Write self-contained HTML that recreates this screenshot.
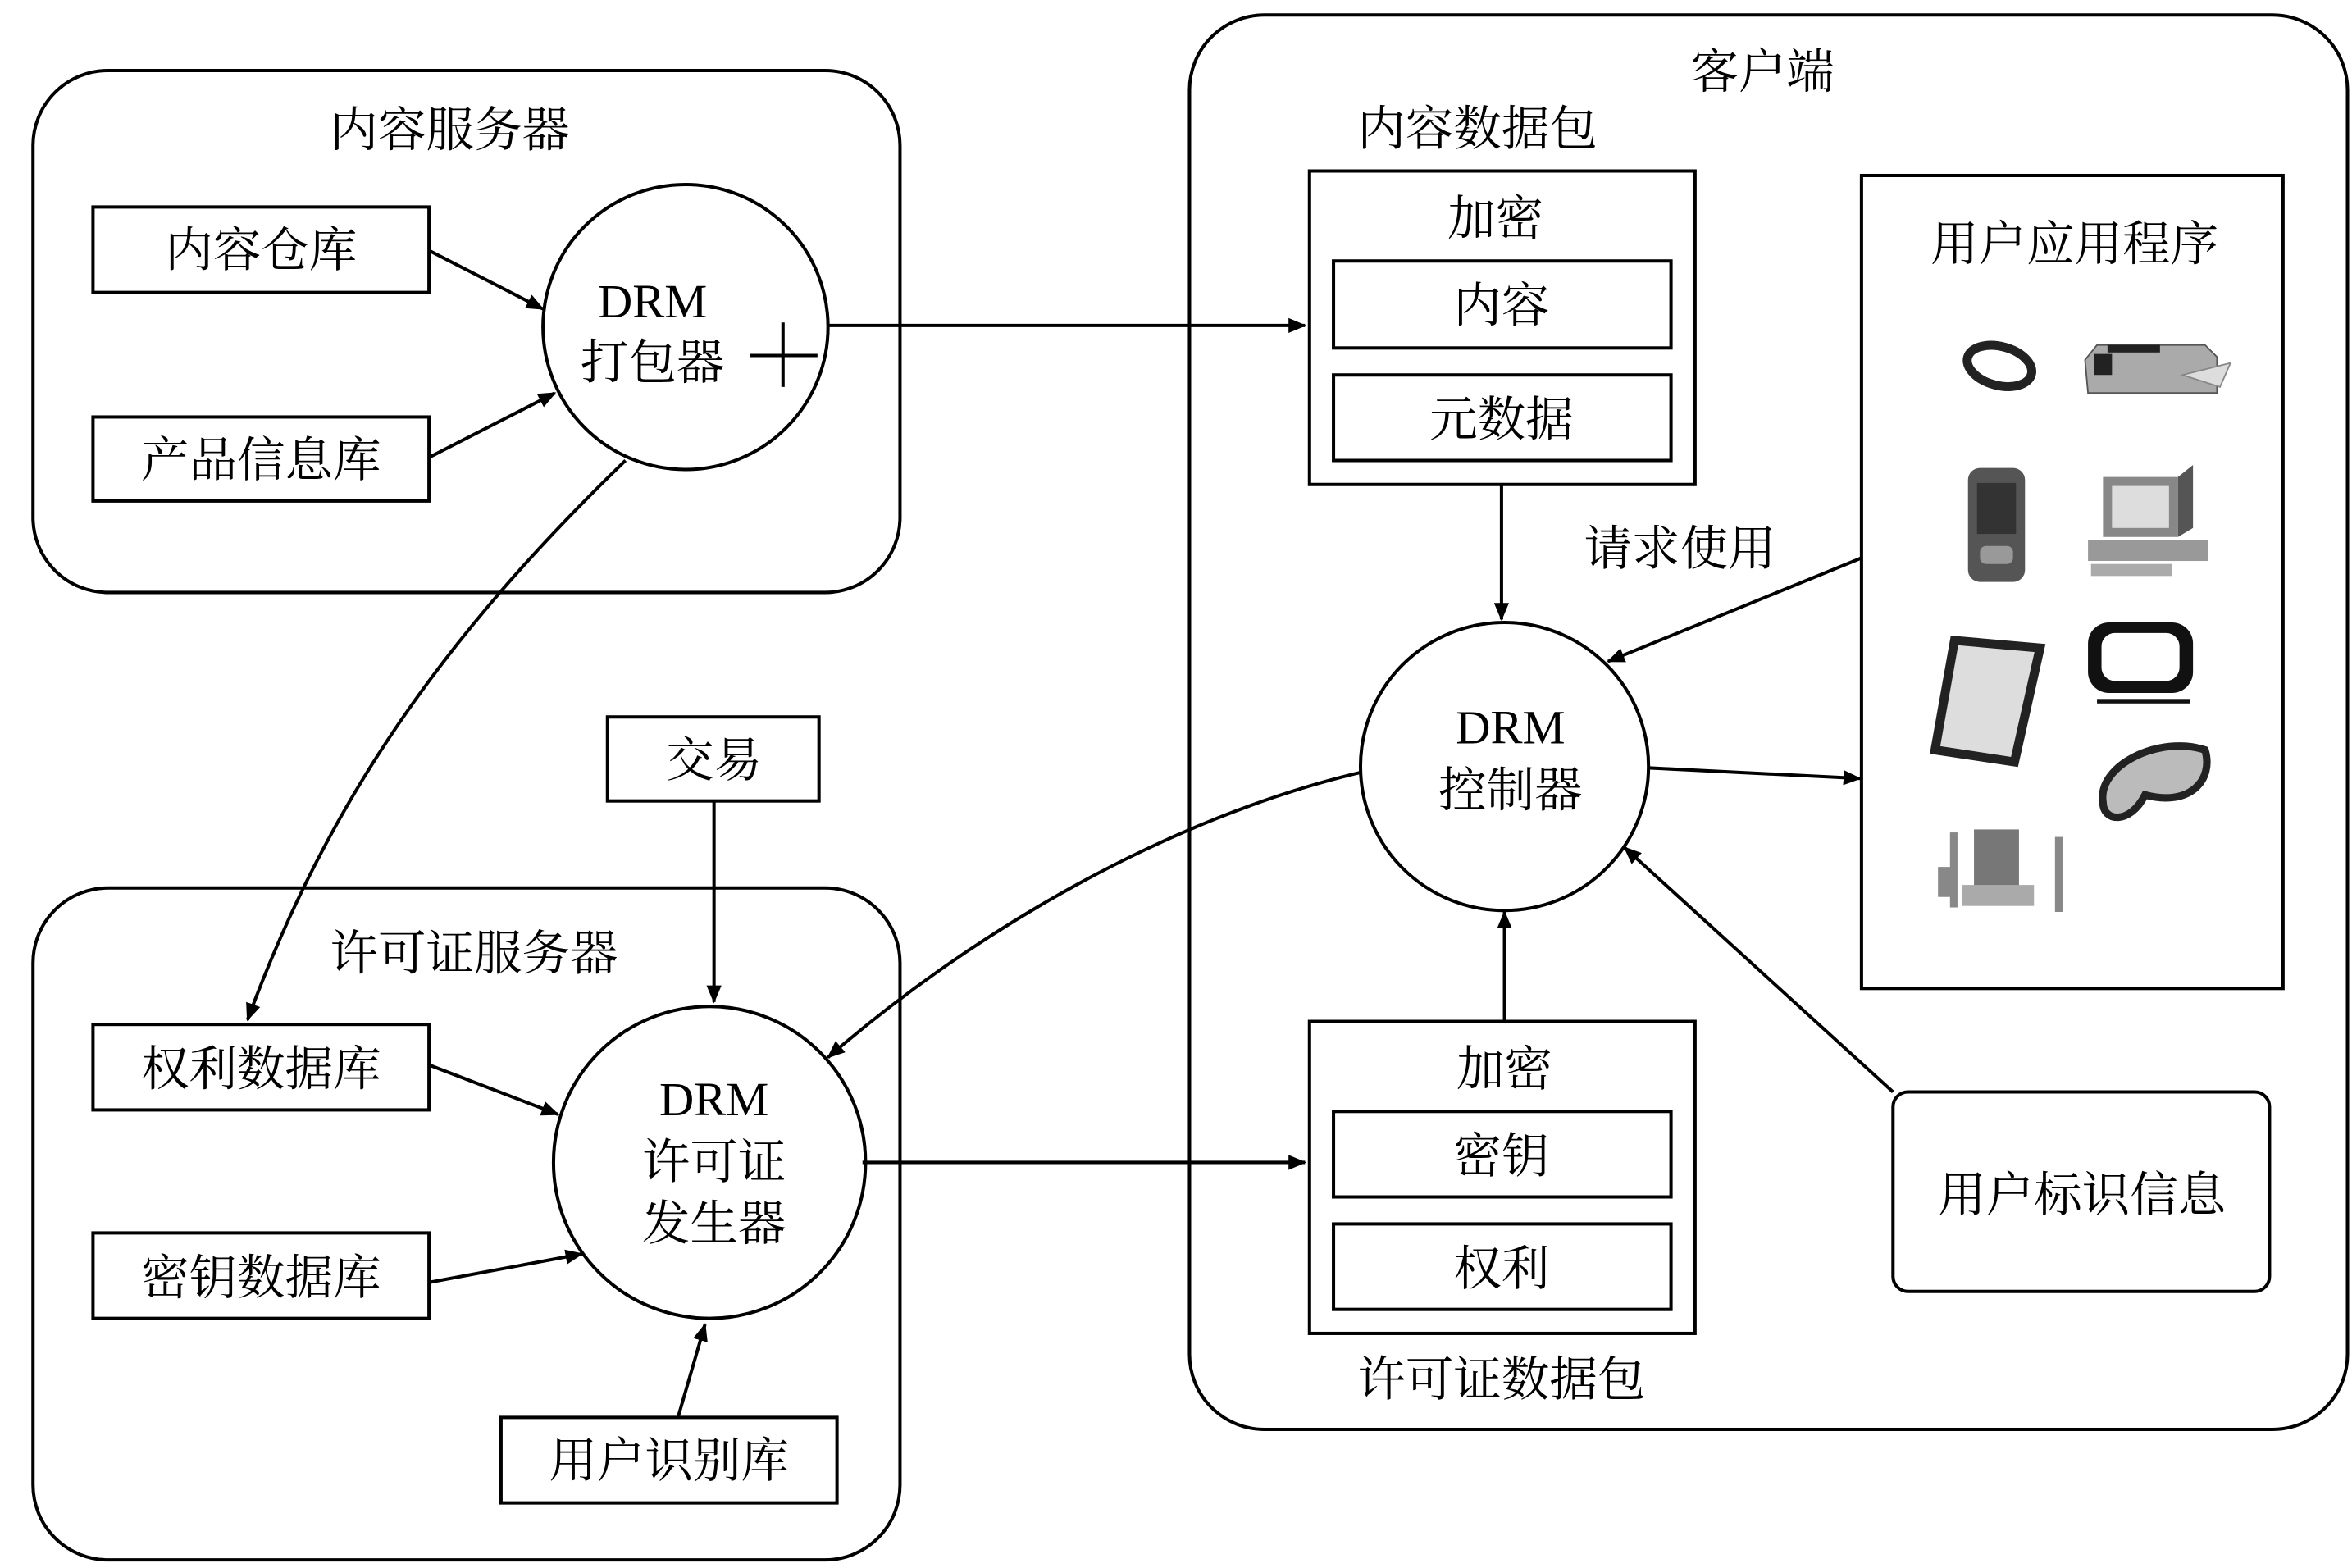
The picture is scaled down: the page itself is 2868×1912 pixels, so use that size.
<!DOCTYPE html>
<html><head><meta charset="utf-8"><style>
html,body{margin:0;padding:0;background:#fff;}
svg{display:block;}
text{font-family:"Liberation Serif","Noto Serif CJK SC",serif;fill:#000;text-anchor:middle;dominant-baseline:central;}
</style></head><body>
<svg width="2868" height="1912" viewBox="0 0 1568 1045.4" preserveAspectRatio="none" xmlns="http://www.w3.org/2000/svg">
<defs>
<marker id="a" markerWidth="12" markerHeight="10" refX="11" refY="5" orient="auto" markerUnits="userSpaceOnUse" viewBox="0 0 12 10">
<path d="M0,0 L12,5 L0,10 z" fill="#000"/></marker>
</defs>
<g fill="none" stroke="#000" stroke-width="2.2">
<rect x="22" y="47" width="578" height="348" rx="50"/>
<rect x="793" y="10" width="772" height="943" rx="50"/>
<rect x="22" y="592" width="578" height="448" rx="50"/>
<rect x="62" y="138" width="224" height="57"/>
<rect x="62" y="278" width="224" height="56"/>
<circle cx="457" cy="218" r="95"/>
<line x1="500" y1="237" x2="545" y2="237"/>
<line x1="522" y1="215" x2="522" y2="258"/>
<line x1="286" y1="167" x2="362" y2="206" marker-end="url(#a)"/>
<line x1="286" y1="305" x2="370" y2="262" marker-end="url(#a)"/>
<line x1="552" y1="217" x2="870" y2="217" marker-end="url(#a)"/>
<rect x="873" y="114" width="257" height="209"/>
<rect x="889" y="174" width="225" height="58"/>
<rect x="889" y="250" width="225" height="57"/>
<line x1="1001" y1="323" x2="1001" y2="413" marker-end="url(#a)"/>
<rect x="1241" y="117" width="281" height="542"/>
<line x1="1241" y1="372" x2="1072" y2="441" marker-end="url(#a)"/>
<circle cx="1003" cy="511" r="96"/>
<line x1="1100" y1="512" x2="1240" y2="519" marker-end="url(#a)"/>
<path d="M907,515 C780,545 650,620 552,705" marker-end="url(#a)"/>
<line x1="1003" y1="680" x2="1003" y2="608" marker-end="url(#a)"/>
<rect x="873" y="681" width="257" height="208"/>
<rect x="889" y="741" width="225" height="57"/>
<rect x="889" y="816" width="225" height="57"/>
<rect x="1262" y="728" width="251" height="133" rx="10"/>
<line x1="1262" y1="728" x2="1083" y2="565" marker-end="url(#a)"/>
<rect x="62" y="683" width="224" height="57"/>
<rect x="62" y="822" width="224" height="57"/>
<rect x="334" y="945" width="224" height="57"/>
<rect x="405" y="478" width="141" height="56"/>
<circle cx="473" cy="775" r="104"/>
<line x1="476" y1="534" x2="476" y2="668" marker-end="url(#a)"/>
<line x1="286" y1="710" x2="372" y2="743" marker-end="url(#a)"/>
<line x1="286" y1="855" x2="388" y2="836" marker-end="url(#a)"/>
<line x1="452" y1="945" x2="470" y2="883" marker-end="url(#a)"/>
<path d="M417,307 C300,420 220,530 165,680" marker-end="url(#a)"/>
<line x1="575" y1="775" x2="870" y2="775" marker-end="url(#a)"/>
</g>
<!-- icons -->
<g>
<ellipse cx="1333" cy="244" rx="22" ry="13" fill="none" stroke="#222" stroke-width="6" transform="rotate(15 1333 244)"/>
<path d="M1390,240 L1398,230 L1470,230 L1478,238 L1478,262 L1392,262 Z" fill="#aaa" stroke="#555"/>
<rect x="1396" y="236" width="12" height="14" fill="#222"/>
<rect x="1405" y="230" width="35" height="5" fill="#222"/>
<path d="M1455,250 L1487,242 L1480,258 Z" fill="#ddd" stroke="#888"/>
<rect x="1312" y="312" width="38" height="76" rx="8" fill="#555"/>
<rect x="1318" y="322" width="26" height="34" fill="#333"/>
<rect x="1320" y="364" width="22" height="12" rx="4" fill="#999"/>
<rect x="1402" y="318" width="50" height="40" fill="#888"/>
<path d="M1452,318 L1462,310 L1462,352 L1452,358Z" fill="#555"/>
<rect x="1408" y="324" width="38" height="28" fill="#ddd"/>
<rect x="1392" y="360" width="80" height="14" fill="#999"/>
<rect x="1394" y="376" width="54" height="8" fill="#aaa"/>
<path d="M1303,427 L1360,432 L1343,508 L1290,500 Z" fill="#ddd" stroke="#222" stroke-width="6"/>
<rect x="1392" y="415" width="70" height="47" rx="14" fill="#111"/>
<rect x="1400" y="421" width="54" height="34" rx="10" fill="#fff" stroke="#111" stroke-width="2"/>
<rect x="1398" y="466" width="62" height="3" fill="#111"/>
<path d="M1402,535 C1398,510 1440,490 1470,500 C1476,520 1460,538 1430,530 C1420,550 1402,548 1402,535Z" fill="#bbb" stroke="#222" stroke-width="5"/>
<rect x="1316" y="553" width="30" height="40" fill="#777"/>
<rect x="1300" y="555" width="5" height="50" fill="#888"/>
<rect x="1370" y="558" width="5" height="50" fill="#888"/>
<rect x="1292" y="578" width="10" height="20" fill="#888"/>
<rect x="1308" y="590" width="48" height="14" fill="#aaa"/>
</g>
<g font-size="32">
<text x="300" y="87">内容服务器</text>
<text x="174" y="167">内容仓库</text>
<text x="174" y="307">产品信息库</text>
<text x="435" y="201">DRM</text>
<text x="435" y="242">打包器</text>
<text x="1175" y="48">客户端</text>
<text x="985" y="86">内容数据包</text>
<text x="997" y="146">加密</text>
<text x="1001" y="204">内容</text>
<text x="1001" y="280">元数据</text>
<text x="1383" y="163">用户应用程序</text>
<text x="1120" y="366">请求使用</text>
<text x="1007" y="485">DRM</text>
<text x="1007" y="527">控制器</text>
<text x="1003" y="713">加密</text>
<text x="1001" y="771">密钥</text>
<text x="1001" y="846">权利</text>
<text x="1001" y="920">许可证数据包</text>
<text x="1388" y="797">用户标识信息</text>
<text x="316" y="636">许可证服务器</text>
<text x="476" y="507">交易</text>
<text x="174" y="713">权利数据库</text>
<text x="174" y="852">密钥数据库</text>
<text x="446" y="974">用户识别库</text>
<text x="476" y="733">DRM</text>
<text x="476" y="775">许可证</text>
<text x="476" y="816">发生器</text>
</g>
</svg>
</body></html>
